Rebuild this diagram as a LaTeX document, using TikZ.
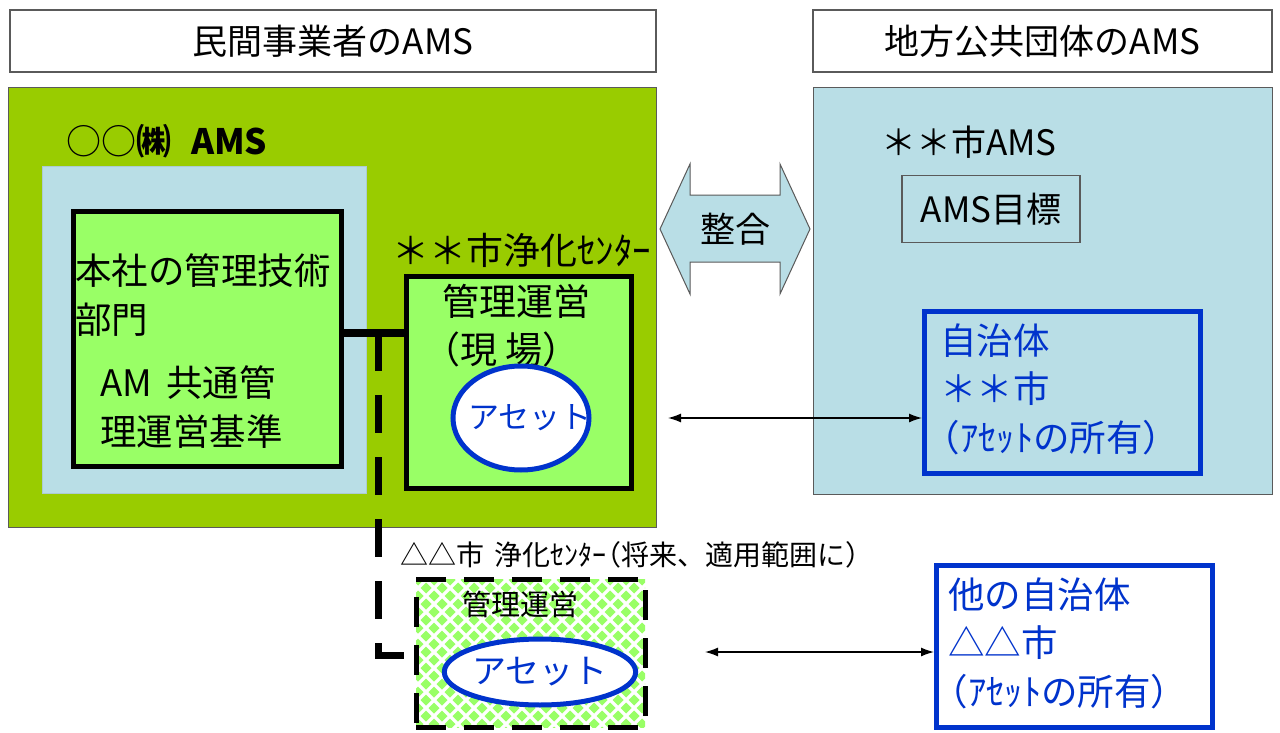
\documentclass[tikz,border=0pt]{standalone}
\usepackage{fontspec}
\setmainfont{Noto Sans CJK JP}
\usetikzlibrary{shapes.geometric,arrows.meta}
\definecolor{amsgreen}{RGB}{153,204,0}
\definecolor{amsltblue}{RGB}{185,222,230}
\definecolor{amsltgreen}{RGB}{153,255,102}
\definecolor{amsblue}{RGB}{0,51,204}
\definecolor{amsgray}{RGB}{90,90,90}
\newcommand{\lp}{\hspace{-0.45em}（}
\newcommand{\rp}{）\hspace{-0.45em}}
\tikzset{
  fs/.style={font=\fontsize{#1}{40}\selectfont},
  titlebox/.style={draw=amsgray, line width=1.2, fill=white},
  panel/.style={draw=amsgray, line width=1},
  thickbox/.style={draw=black, line width=5, fill=amsltgreen},
  bluebox/.style={draw=amsblue, line width=4.5},
  assetell/.style={ellipse, draw=amsblue, line width=5, fill=white, text=amsblue, inner sep=0},
  lbl/.style={inner sep=0, anchor=west},
  bluetxt/.style={inner sep=0, anchor=west, text=amsblue, align=left, font=\fontsize{36.5}{48.5}\selectfont},
  link/.style={draw=black, line width=1.3, <->, >={Latex[length=13,width=9]}}
}
\begin{document}
\begin{tikzpicture}[x=1pt,y=-1pt]
\useasboundingbox[fill=white] (0,0) rectangle (1280,733);

% title boxes
\node[titlebox, minimum width=646, minimum height=62, fs=35] (tl) at (333,41) {民間事業者のAMS};
\node[titlebox, minimum width=459, minimum height=62, fs=35] (tr) at (1042.5,41) {地方公共団体のAMS};

% left big green panel
\draw[panel, fill=amsgreen] (8,88) rectangle (656,527);
\node[lbl, fs=35] (corp) at (66,141) {○○\textbf{㈱}\hspace{20pt}\textbf{AMS}};
\draw[panel, draw=amsltblue!80!gray, fill=amsltblue] (42,167) rectangle (366,493);

% HQ box
\node[thickbox, minimum width=268, minimum height=255, anchor=north west] (hq) at (71,209) {};
\node[lbl, fs=36.5] (hq1) at (75,271) {本社の管理技術};
\node[lbl, fs=36.5] (hq2) at (75,320) {部門};
\node[lbl, fs=36.5] (hq3) at (100,383) {AM\hspace{14pt}共通管};
\node[lbl, fs=36.5] (hq4) at (100,432) {理運営基準};

% site box
\node[lbl, fs=37] (sitettl) at (392,250) {＊＊市浄化ｾﾝﾀｰ};
\node[thickbox, minimum width=225, minimum height=212, anchor=north west] (site) at (404,274) {};
\node[fs=37, inner sep=0] (site1) at (516,301) {管理運営};
\node[fs=37, inner sep=0] (site2) at (510,349) {\lp 現\hspace{8pt}場\rp};
\node[assetell, minimum width=136, minimum height=104] (asset1) at (521,418) {};
\node[fs=31, text=amsblue, inner sep=0] (asset1t) at (530,418) {アセット};

% connectors
\coordinate (jn) at (378,333);
\draw[line width=8] (hq.east |- jn) -- (site.west |- jn);
\coordinate (dl) at (378,655);

% right panel
\draw[panel, fill=amsltblue] (813,88) rectangle (1272,494);
\node[lbl, fs=35] (city) at (881,142) {＊＊市AMS};
\node[draw=amsgray, line width=1.2, minimum width=178, minimum height=67, fs=35] (goal) at (991,209) {AMS目標};
\node[bluebox, minimum width=276, minimum height=162, anchor=north west] (muni) at (922,309) {};
\node[bluetxt] (munit) at (940,389) {自治体\\＊＊市\\\lp ｱｾｯﾄの所有\rp};

% 整合 arrow
\draw[panel, fill=amsltblue] (660,229) -- (690,164) -- (690,195) -- (780,195) -- (780,164) -- (810,229) -- (780,294) -- (780,262) -- (690,262) -- (690,294) -- cycle;
\node[fs=35, inner sep=0] (seigo) at (735,229) {整合};

% link arrows
\draw[link] (668,418) -- (muni.west |- 0,418);

% future box
\node[lbl, fs=28] (futttl) at (400,555) {△△市\hspace{10pt}浄化ｾﾝﾀｰ\lp 将来、適用範囲に）};
\begin{scope}
\clip (416,579) rectangle (645,727);
\foreach \i in {0,...,15} {
  \foreach \j in {0,...,20} {
    \pgfmathsetmacro{\xx}{418 + 16*\i + 8*mod(\j,2)}
    \pgfmathsetmacro{\yy}{580 + 8*\j}
    \fill[amsltgreen] (\xx-5.5,\yy) -- (\xx,\yy-5.5) -- (\xx+5.5,\yy) -- (\xx,\yy+5.5) -- cycle;
  }
}
\end{scope}
\node[draw=black, line width=5, dash pattern=on 30 off 18, minimum width=229, minimum height=148] (fut) at (530.5,653) {};
\node[fs=29, inner sep=0] (fut1) at (520,604) {管理運営};
\node[assetell, minimum width=164, minimum height=66, fs=34] (asset2) at (540,672) {アセット};

% dashed connector
\draw[line width=7, dash pattern=on 38 off 24] (jn) -- (dl) -- (fut.west |- dl);

% other municipality
\node[bluebox, fill=white, minimum width=276, minimum height=162, anchor=north west] (other) at (934,563) {};
\node[bluetxt] (othert) at (948,643) {他の自治体\\△△市\\\lp ｱｾｯﾄの所有\rp};
\draw[link] (705,652) -- (other.west |- 0,652);
\end{tikzpicture}
\end{document}
